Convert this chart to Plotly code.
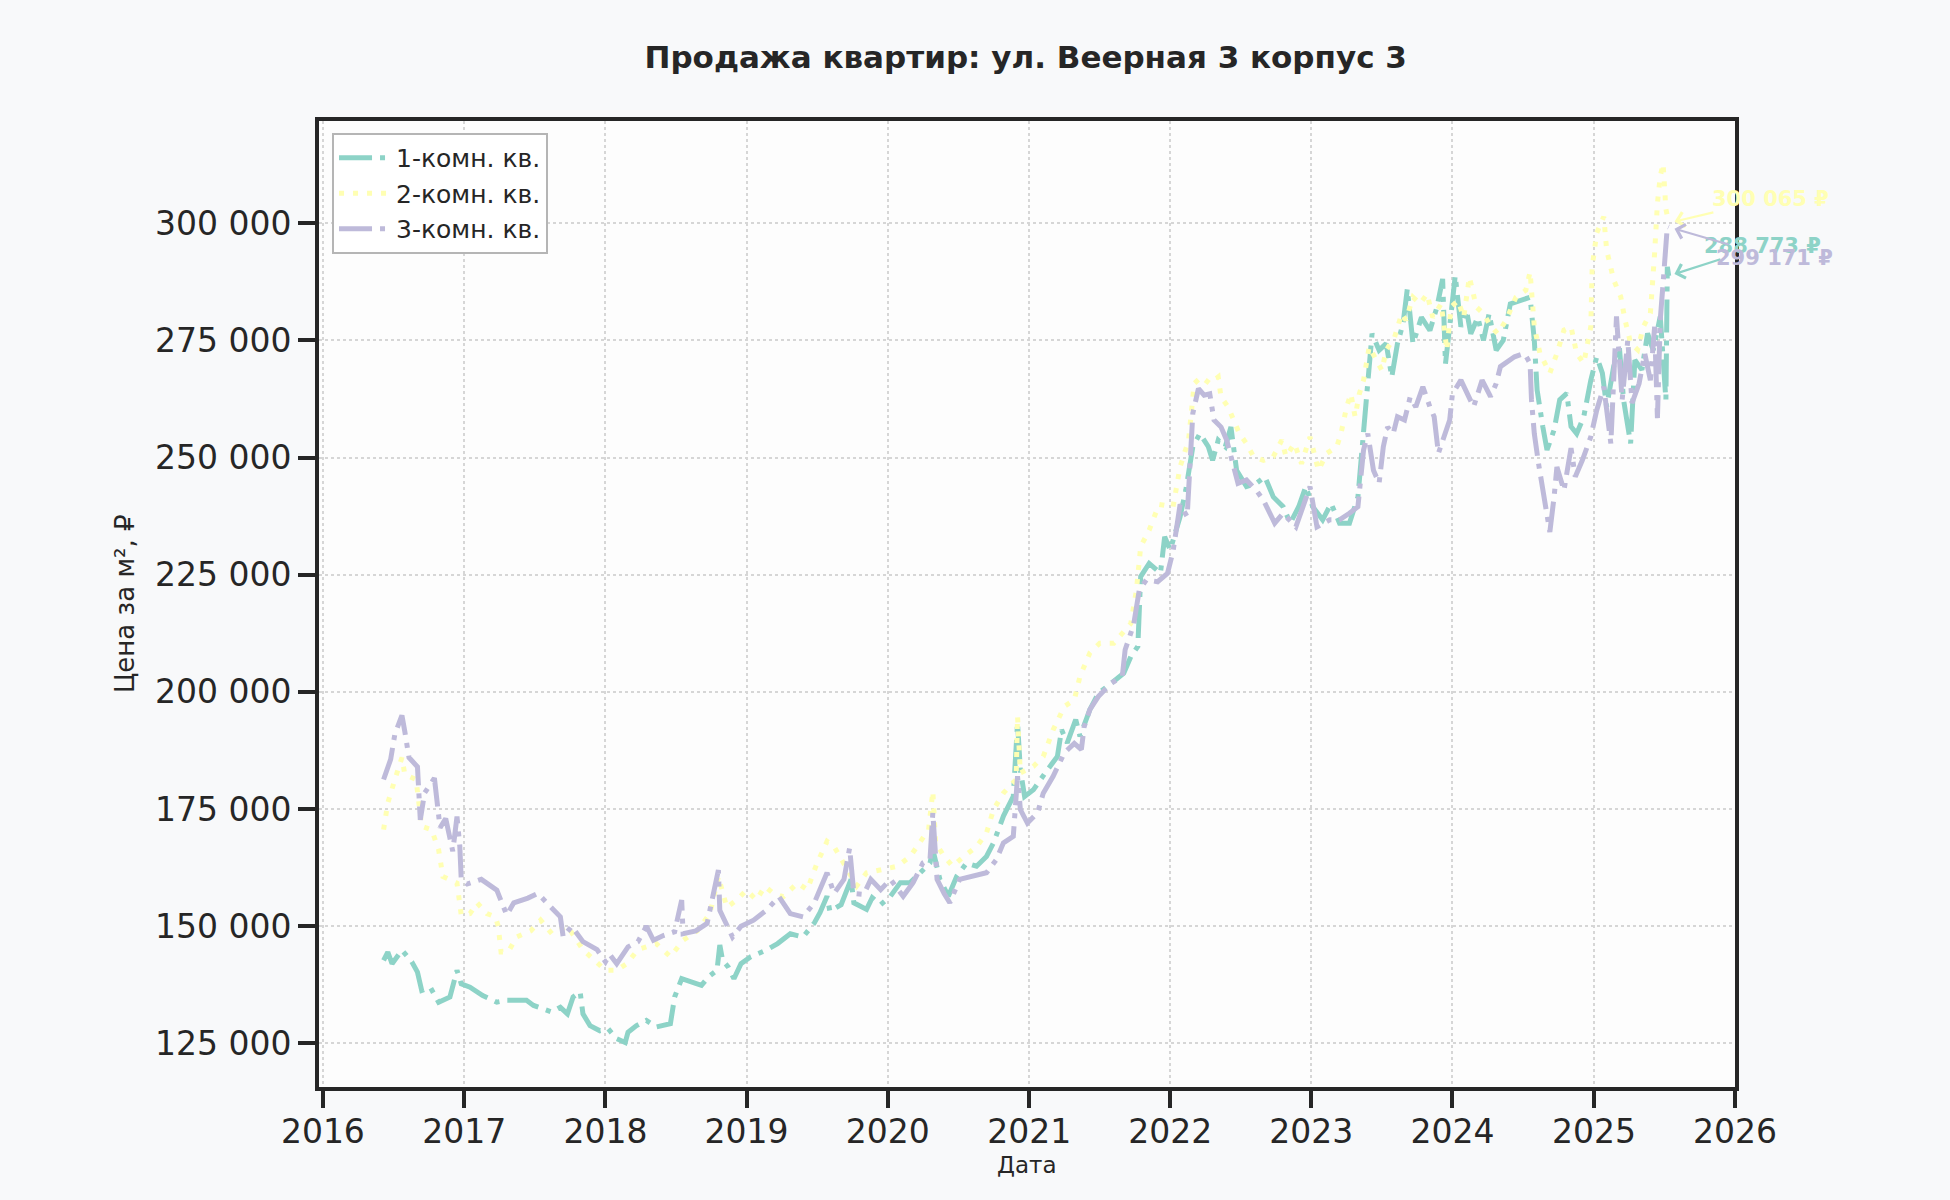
import pandas as pd
import plotly.graph_objects as go

TITLE = "Продажа квартир: ул. Веерная 3 корпус 3"
SERIES_NAMES = ["1-комн. кв.", "2-комн. кв.", "3-комн. кв."]
COLORS = ["#8dd3c7", "#ffffb3", "#bebada"]
Y_TICKS = [125000, 150000, 175000, 200000, 225000, 250000, 275000, 300000]
X_TICK_YEARS = list(range(2016, 2027))

# decimal year, price per m2 in thousand rubles
t1 = [2016.43, 2016.46, 2016.49, 2016.56, 2016.63, 2016.67, 2016.70, 2016.76, 2016.82, 2016.90,
      2016.95, 2016.98, 2017.04, 2017.13, 2017.23, 2017.30, 2017.37, 2017.44, 2017.49, 2017.56,
      2017.62, 2017.68, 2017.73, 2017.77, 2017.82, 2017.84, 2017.89, 2017.96, 2018.02, 2018.08,
      2018.14, 2018.16, 2018.22, 2018.29, 2018.36, 2018.46, 2018.49, 2018.54, 2018.60, 2018.68,
      2018.73, 2018.79, 2018.81, 2018.83, 2018.87, 2018.91, 2018.96, 2019.03, 2019.14, 2019.22,
      2019.31, 2019.40, 2019.48, 2019.52, 2019.57, 2019.59, 2019.67, 2019.74, 2019.76, 2019.85,
      2019.89, 2019.95, 2020.02, 2020.09, 2020.16, 2020.23, 2020.30, 2020.32, 2020.37, 2020.43,
      2020.49, 2020.56, 2020.63, 2020.70, 2020.75, 2020.82, 2020.89, 2020.92, 2020.94, 2020.97,
      2021.03, 2021.13, 2021.20, 2021.23, 2021.27, 2021.33, 2021.36, 2021.43, 2021.49, 2021.58,
      2021.67, 2021.72, 2021.77, 2021.79, 2021.85, 2021.93, 2021.96, 2022.00, 2022.07, 2022.11,
      2022.16, 2022.21, 2022.27, 2022.30, 2022.34, 2022.39, 2022.43, 2022.47, 2022.54, 2022.61,
      2022.67, 2022.73, 2022.80, 2022.85, 2022.91, 2022.96, 2023.01, 2023.08, 2023.14, 2023.20,
      2023.27, 2023.33, 2023.37, 2023.39, 2023.43, 2023.48, 2023.53, 2023.57, 2023.61, 2023.65,
      2023.68, 2023.72, 2023.78, 2023.84, 2023.89, 2023.93, 2023.95, 2023.99, 2024.02, 2024.06,
      2024.10, 2024.13, 2024.18, 2024.22, 2024.26, 2024.31, 2024.36, 2024.41, 2024.48, 2024.55,
      2024.58, 2024.60, 2024.64, 2024.67, 2024.72, 2024.76, 2024.81, 2024.84, 2024.88, 2024.93,
      2024.98, 2025.02, 2025.06, 2025.09, 2025.14, 2025.18, 2025.21, 2025.26, 2025.29, 2025.34,
      2025.38, 2025.42, 2025.47, 2025.51, 2025.52, 2025.53]
v1 = [142.7, 144.5, 142.0, 144.9, 142.4, 140.2, 136.3, 137.0, 133.8, 134.9,
      140.6, 137.7, 137.0, 135.2, 133.8, 134.2, 134.2, 134.2, 133.1, 132.4,
      131.7, 132.7, 131.3, 134.9, 136.0, 131.3, 128.8, 127.7, 128.1, 126.0,
      125.2, 127.4, 128.8, 129.9, 128.5, 129.2, 134.9, 138.8, 138.1, 137.4,
      139.2, 140.6, 146.0, 142.7, 141.3, 138.8, 142.0, 143.5, 144.9, 146.3,
      148.4, 147.7, 150.7, 152.9, 156.4, 153.2, 154.6, 160.0, 155.0, 153.6,
      156.1, 154.6, 156.4, 159.3, 159.3, 161.4, 163.5, 166.4, 160.0, 156.4,
      160.7, 163.5, 162.8, 164.9, 167.8, 173.5, 177.7, 193.4, 183.4, 177.7,
      179.1, 183.4, 186.2, 191.9, 189.1, 194.1, 190.5, 196.2, 199.7, 201.8,
      204.0, 207.5, 209.7, 224.6, 227.4, 225.3, 233.1, 230.3, 237.4, 243.0,
      252.3, 255.1, 252.3, 249.4, 253.7, 252.3, 256.5, 247.3, 243.8, 244.5,
      245.9, 241.6, 239.5, 236.0, 239.5, 243.8, 239.5, 236.7, 240.2, 236.0,
      236.0, 241.6, 255.1, 262.2, 276.4, 272.9, 274.3, 267.2, 274.3, 278.6,
      286.0, 274.3, 279.9, 277.1, 282.1, 288.1, 270.0, 280.7, 288.8, 277.9,
      281.4, 276.4, 279.9, 275.0, 280.7, 272.9, 275.0, 282.8, 283.5, 284.2,
      275.0, 264.4, 256.6, 251.6, 255.9, 262.3, 263.7, 256.6, 255.1, 258.7,
      266.5, 271.5, 268.0, 260.8, 269.4, 273.7, 262.3, 253.0, 270.8, 268.7,
      276.5, 272.9, 280.1, 262.3, 290.7, 288.773]

t2 = [2016.43, 2016.46, 2016.51, 2016.56, 2016.58, 2016.66, 2016.70, 2016.77, 2016.82, 2016.85,
      2016.95, 2016.98, 2017.04, 2017.09, 2017.16, 2017.22, 2017.24, 2017.26, 2017.31, 2017.37,
      2017.47, 2017.54, 2017.62, 2017.73, 2017.84, 2017.94, 2018.00, 2018.08, 2018.15, 2018.23,
      2018.36, 2018.46, 2018.55, 2018.65, 2018.74, 2018.80, 2018.86, 2018.93, 2019.00, 2019.07,
      2019.13, 2019.19, 2019.26, 2019.36, 2019.43, 2019.50, 2019.57, 2019.62, 2019.69, 2019.78,
      2019.85, 2019.95, 2020.07, 2020.16, 2020.23, 2020.29, 2020.32, 2020.34, 2020.40, 2020.46,
      2020.54, 2020.63, 2020.70, 2020.75, 2020.82, 2020.91, 2020.92, 2020.94, 2021.03, 2021.10,
      2021.17, 2021.25, 2021.32, 2021.36, 2021.43, 2021.50, 2021.60, 2021.67, 2021.72, 2021.76,
      2021.79, 2021.85, 2021.92, 2022.02, 2022.07, 2022.13, 2022.17, 2022.22, 2022.28, 2022.34,
      2022.36, 2022.41, 2022.44, 2022.49, 2022.54, 2022.59, 2022.66, 2022.73, 2022.79, 2022.82,
      2022.88, 2022.93, 2022.99, 2023.05, 2023.11, 2023.18, 2023.21, 2023.25, 2023.28, 2023.31,
      2023.34, 2023.37, 2023.41, 2023.46, 2023.50, 2023.53, 2023.59, 2023.64, 2023.67, 2023.72,
      2023.77, 2023.82, 2023.86, 2023.92, 2023.96, 2023.99, 2024.04, 2024.08, 2024.12, 2024.17,
      2024.22, 2024.26, 2024.32, 2024.38, 2024.45, 2024.52, 2024.55, 2024.58, 2024.62, 2024.69,
      2024.74, 2024.79, 2024.84, 2024.88, 2024.93, 2024.98, 2024.99, 2025.02, 2025.07, 2025.09,
      2025.14, 2025.19, 2025.22, 2025.26, 2025.31, 2025.35, 2025.40, 2025.43, 2025.45, 2025.47,
      2025.49, 2025.51, 2025.53]
v2 = [170.6, 176.3, 181.3, 186.0, 182.4, 181.3, 171.3, 170.6, 166.3, 160.6,
      159.2, 152.4, 152.7, 155.0, 152.7, 152.0, 150.0, 144.5, 144.5, 147.7,
      149.0, 151.3, 148.4, 150.0, 145.0, 142.4, 140.6, 140.6, 142.0, 145.0,
      146.3, 143.5, 147.0, 149.0, 152.7, 160.6, 154.0, 155.6, 157.7, 155.6,
      158.5, 157.0, 156.3, 159.2, 157.8, 163.5, 168.1, 167.0, 163.5, 158.6,
      161.4, 162.1, 162.8, 164.9, 167.8, 170.6, 178.8, 167.8, 164.9, 162.8,
      164.9, 167.0, 169.9, 174.9, 178.4, 181.3, 194.8, 182.7, 184.1, 186.2,
      191.9, 196.9, 198.3, 203.3, 208.3, 210.4, 210.4, 212.9, 214.6, 221.7,
      231.0, 234.5, 240.0, 239.5, 248.0, 253.7, 265.8, 267.2, 265.8, 267.2,
      262.9, 260.8, 258.7, 255.1, 253.0, 250.2, 249.4, 250.2, 253.7, 250.2,
      253.0, 248.7, 254.4, 247.3, 250.9, 252.3, 255.1, 260.8, 263.6, 258.7,
      263.6, 266.5, 273.6, 270.7, 268.6, 272.9, 275.7, 280.7, 279.3, 284.2,
      282.8, 284.9, 279.9, 282.8, 272.9, 282.1, 283.5, 279.9, 288.5, 282.1,
      280.7, 278.6, 276.4, 279.3, 284.2, 285.7, 289.6, 277.9, 272.2, 268.0,
      272.2, 277.2, 277.9, 272.2, 270.1, 277.9, 290.7, 297.9, 301.4, 294.3,
      287.9, 284.3, 279.4, 274.4, 273.0, 277.9, 280.8, 293.6, 304.3, 310.0,
      312.7, 303.0, 300.065]

t3 = [2016.43, 2016.48, 2016.51, 2016.56, 2016.58, 2016.61, 2016.67, 2016.69, 2016.72, 2016.79,
      2016.83, 2016.87, 2016.92, 2016.95, 2016.97, 2016.98, 2017.02, 2017.12, 2017.23, 2017.30,
      2017.35, 2017.45, 2017.52, 2017.61, 2017.68, 2017.70, 2017.76, 2017.84, 2017.94, 2018.00,
      2018.03, 2018.08, 2018.16, 2018.23, 2018.29, 2018.34, 2018.41, 2018.49, 2018.54, 2018.55,
      2018.64, 2018.72, 2018.80, 2018.81, 2018.90, 2018.96, 2019.05, 2019.14, 2019.23, 2019.31,
      2019.40, 2019.48, 2019.57, 2019.62, 2019.69, 2019.73, 2019.76, 2019.83, 2019.88, 2019.95,
      2020.02, 2020.11, 2020.18, 2020.25, 2020.30, 2020.32, 2020.35, 2020.40, 2020.44, 2020.51,
      2020.61, 2020.70, 2020.77, 2020.82, 2020.89, 2020.92, 2020.94, 2020.99, 2021.06, 2021.10,
      2021.17, 2021.25, 2021.32, 2021.37, 2021.39, 2021.43, 2021.49, 2021.58, 2021.66, 2021.68,
      2021.74, 2021.78, 2021.83, 2021.91, 2021.98, 2022.02, 2022.07, 2022.12, 2022.16, 2022.20,
      2022.24, 2022.28, 2022.31, 2022.36, 2022.40, 2022.43, 2022.48, 2022.54, 2022.61, 2022.66,
      2022.74, 2022.80, 2022.89, 2022.99, 2023.04, 2023.13, 2023.20, 2023.27, 2023.33, 2023.37,
      2023.40, 2023.44, 2023.48, 2023.51, 2023.54, 2023.58, 2023.61, 2023.66, 2023.70, 2023.74,
      2023.79, 2023.84, 2023.87, 2023.90, 2023.95, 2023.98, 2024.00, 2024.06, 2024.15, 2024.21,
      2024.27, 2024.31, 2024.34, 2024.44, 2024.51, 2024.55, 2024.56, 2024.58, 2024.61, 2024.65,
      2024.67, 2024.69, 2024.72, 2024.74, 2024.79, 2024.84, 2024.87, 2024.92, 2024.98, 2025.02,
      2025.07, 2025.12, 2025.16, 2025.20, 2025.24, 2025.27, 2025.32, 2025.36, 2025.40, 2025.43,
      2025.45, 2025.47, 2025.49, 2025.52, 2025.53]
v3 = [181.3, 185.6, 191.0, 195.0, 191.6, 186.0, 184.0, 172.7, 178.4, 181.6,
      171.0, 173.0, 166.0, 173.4, 167.0, 160.0, 159.0, 160.0, 157.7, 152.4,
      155.0, 156.0, 157.0, 154.0, 152.0, 147.7, 150.0, 146.7, 145.0, 142.4,
      144.0, 142.0, 145.6, 146.7, 150.0, 147.0, 148.0, 148.8, 155.6, 148.4,
      149.0, 150.6, 162.0, 153.4, 147.7, 150.0, 151.3, 153.4, 156.3, 152.7,
      152.0, 155.0, 161.4, 157.0, 160.0, 166.7, 157.0, 156.8, 160.0, 157.8,
      160.0, 156.4, 159.3, 163.5, 164.2, 174.2, 160.0, 157.0, 155.0, 160.0,
      160.7, 161.4, 164.2, 167.8, 169.2, 182.0, 174.9, 172.0, 174.2, 178.4,
      182.0, 187.0, 189.0, 187.7, 192.6, 196.2, 199.0, 201.8, 203.3, 209.0,
      214.3, 221.7, 223.9, 223.5, 225.3, 230.0, 240.0, 237.4, 259.4, 264.7,
      263.3, 263.6, 258.0, 256.5, 253.7, 250.2, 244.5, 245.2, 243.0, 240.9,
      236.0, 238.1, 235.2, 243.8, 235.2, 236.7, 236.7, 238.1, 239.5, 251.6,
      255.1, 247.3, 244.5, 252.3, 256.5, 255.1, 258.7, 258.0, 262.9, 260.8,
      265.1, 260.8, 258.7, 250.9, 255.1, 258.0, 263.6, 266.5, 260.8, 266.5,
      263.0, 265.8, 269.4, 271.5, 272.2, 270.1, 262.3, 255.1, 248.7, 240.9,
      238.0, 234.1, 241.6, 248.0, 243.0, 252.0, 245.9, 249.4, 254.4, 260.1,
      265.1, 253.0, 280.1, 262.3, 275.1, 261.6, 265.8, 272.2, 266.5, 277.9,
      258.4, 279.4, 287.2, 299.3, 299.171]

LAST_LABELS = ["288 773 ₽", "300 065 ₽", "299 171 ₽"]


def to_dates(years):
    out = []
    for y in years:
        base = pd.Timestamp(year=int(y), month=1, day=1)
        out.append(base + pd.Timedelta(days=(y - int(y)) * 365.25))
    return out


def to_rub(vals):
    return [v * 1000 for v in vals]


series = [(t1, v1), (t2, v2), (t3, v3)]
dashes = ["33px,8px,5px,8px", "5px,9px", "33px,8px,5px,8px"]

FONT = "DejaVu Sans"
INK = "#262626"

fig = go.Figure()
for i, (tt, vv) in enumerate(series):
    fig.add_trace(go.Scatter(
        x=to_dates(tt), y=to_rub(vv), mode="lines", name=SERIES_NAMES[i],
        legendgroup=f"g{i}",
        line=dict(color=COLORS[i], width=5, dash=dashes[i]),
    ))

# end-value annotations with arrows
offsets = [(94, -30), (102, -24), (106, 31)]
for i, (tt, vv) in enumerate(series):
    fig.add_annotation(
        x=to_dates([tt[-1]])[0], y=vv[-1] * 1000, text=LAST_LABELS[i],
        showarrow=True, ax=offsets[i][0], ay=offsets[i][1],
        arrowcolor=COLORS[i], arrowwidth=2.2, arrowhead=4, arrowsize=1.3, standoff=6,
        font=dict(family=FONT, size=21, color=COLORS[i], weight="bold"),
    )

fig.add_annotation(
    x=-0.137, y=0.5, xref="paper", yref="paper", text="Цена за м², ₽",
    textangle=-90, showarrow=False, xanchor="center", yanchor="middle",
    font=dict(family=FONT, size=26, color=INK),
)
fig.add_annotation(
    x=0.5, y=-0.0807, xref="paper", yref="paper", text="Дата",
    showarrow=False, xanchor="center", yanchor="middle",
    font=dict(family=FONT, size=23, color=INK),
)

fig.update_layout(
    width=1950, height=1200,
    paper_bgcolor="#f8f9fa", plot_bgcolor="#fdfdfd",
    margin=dict(l=319, r=215, t=121, b=113),
    separators=", ",
    font=dict(family=FONT, color=INK),
    title=dict(
        text=TITLE, x=0.526, xanchor="center", y=1 - 57 / 1200, yanchor="middle",
        font=dict(family=FONT, size=31, color=INK, weight="bold"),
    ),
    legend=dict(
        x=0.0092, y=0.9876, xanchor="left", yanchor="top",
        bgcolor="white", bordercolor="#b5b5b5", borderwidth=2,
        font=dict(family=FONT, size=25, color=INK),
        tracegroupgap=0, itemwidth=52,
    ),
    showlegend=True,
)

fig.update_xaxes(
    type="date",
    range=["2015-12-22", "2026-01-01"],
    tickvals=[pd.Timestamp(year=y, month=1, day=1) for y in X_TICK_YEARS],
    ticktext=[str(y) for y in X_TICK_YEARS],
    tickfont=dict(family=FONT, size=33, color=INK),
    ticklabelstandoff=-5,
    showgrid=True, gridcolor="#d6d6d6", gridwidth=2, griddash="dot",
    showline=True, linecolor=INK, linewidth=4, mirror=True,
    ticks="outside", ticklen=17, tickwidth=4, tickcolor=INK,
    zeroline=False,
)
fig.update_yaxes(
    range=[115700, 321800],
    tickvals=Y_TICKS, tickformat=",d",
    tickfont=dict(family=FONT, size=33, color=INK),
    showgrid=True, gridcolor="#d6d6d6", gridwidth=2, griddash="dot",
    showline=True, linecolor=INK, linewidth=4, mirror=True,
    ticks="outside", ticklen=17, tickwidth=4, tickcolor=INK,
    zeroline=False,
)

fig.write_html("out.html", config={"displayModeBar": False},
               post_script="document.body.style.margin='0';")
